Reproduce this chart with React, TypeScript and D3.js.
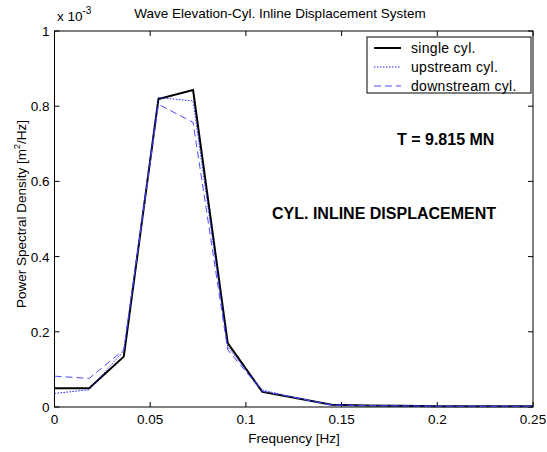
import React from "react";
import * as d3 from "d3";

const freqStep = 0.0181;
const singleCyl = [0.05, 0.05, 0.134, 0.819, 0.843, 0.17, 0.04, 0.023, 0.006, 0.004, 0.003, 0.002, 0.002, 0.002, 0.002];
const upstreamCyl = [0.036, 0.046, 0.15, 0.823, 0.814, 0.16, 0.045, 0.024, 0.006, 0.004, 0.003, 0.002, 0.002, 0.002, 0.002];
const downstreamCyl = [0.082, 0.076, 0.152, 0.805, 0.757, 0.152, 0.042, 0.024, 0.005, 0.004, 0.003, 0.002, 0.002, 0.002, 0.002];
const xTicks = [0, 0.05, 0.1, 0.15, 0.2, 0.25];
const yTicks = [0, 0.2, 0.4, 0.6, 0.8, 1];
const seriesNames = ["single cyl.", "upstream cyl.", "downstream cyl."];

const L = 54.5, R = 533, T = 31, B = 407;
const font = "Arial, 'Liberation Sans', sans-serif";

export default function App() {
  const x = d3.scaleLinear().domain([0, 0.25]).range([L, R]);
  const y = d3.scaleLinear().domain([0, 1]).range([B, T]);
  const mk = (vals: number[]) =>
    d3.line<number>().x((_, i) => x(i * freqStep)).y((v) => y(v))(vals) || "";
  const series = [
    { vals: singleCyl, stroke: "#000", width: 2, dash: "" },
    { vals: upstreamCyl, stroke: "#2222ff", width: 1, dash: "1.5,1.5" },
    { vals: downstreamCyl, stroke: "#4a4aff", width: 1, dash: "7,4" },
  ];
  return (
    <svg width={547} height={452} style={{ position: "absolute", left: 0, top: 0, background: "#fff" }}>
      <rect x={0} y={0} width={547} height={452} fill="#fff" />
      <defs>
        <clipPath id="plot">
          <rect x={L} y={T - 2} width={R - L} height={B - T + 4} />
        </clipPath>
      </defs>
      <rect x={L} y={T} width={R - L} height={B - T} fill="#fff" stroke="#000" strokeWidth={1} />
      {xTicks.map((t) => (
        <g key={"x" + t}>
          <line x1={x(t)} x2={x(t)} y1={B} y2={B - 5} stroke="#000" />
          <line x1={x(t)} x2={x(t)} y1={T} y2={T + 5} stroke="#000" />
          <text x={x(t)} y={B + 17} textAnchor="middle" fontFamily={font} fontSize={13.5}>{String(t)}</text>
        </g>
      ))}
      {yTicks.map((t) => (
        <g key={"y" + t}>
          <line x1={L} x2={L + 5} y1={y(t)} y2={y(t)} stroke="#000" />
          <line x1={R} x2={R - 5} y1={y(t)} y2={y(t)} stroke="#000" />
          <text x={L - 5} y={y(t) + 5} textAnchor="end" fontFamily={font} fontSize={13.5}>{String(t)}</text>
        </g>
      ))}
      <g clipPath="url(#plot)">
        {series.map((s, i) => (
          <path key={i} d={mk(s.vals)} fill="none" stroke={s.stroke} strokeWidth={s.width} strokeDasharray={s.dash} strokeLinejoin="miter" />
        ))}
      </g>
      <text x={280} y={18} textAnchor="middle" fontFamily={font} fontSize={13.5}>Wave Elevation-Cyl. Inline Displacement System</text>
      <text x={57} y={21} fontFamily={font} fontSize={13.5}>x 10<tspan dy={-7} fontSize={10}>-3</tspan></text>
      <text x={294} y={443} textAnchor="middle" fontFamily={font} fontSize={13.5}>Frequency [Hz]</text>
      <text transform={`translate(26,214) rotate(-90)`} textAnchor="middle" fontFamily={font} fontSize={13.5}>
        Power Spectral Density [m<tspan dy={-6} fontSize={9}>2</tspan><tspan dy={6}>/Hz]</tspan>
      </text>
      <rect x={367} y={37} width={164} height={56} fill="#fff" stroke="#000" />
      {series.map((s, i) => (
        <g key={"lg" + i}>
          <line x1={374} x2={401} y1={48 + i * 19} y2={48 + i * 19} stroke={s.stroke} strokeWidth={s.width} strokeDasharray={s.dash} />
          <text x={411} y={53 + i * 19} fontFamily={font} fontSize={14} letterSpacing={0.3}>{seriesNames[i]}</text>
        </g>
      ))}
      <text x={397} y={145} fontFamily={font} fontSize={16} fontWeight="bold">T = 9.815 MN</text>
      <text x={272} y={219} fontFamily={font} fontSize={16} fontWeight="bold">CYL. INLINE DISPLACEMENT</text>
    </svg>
  );
}
